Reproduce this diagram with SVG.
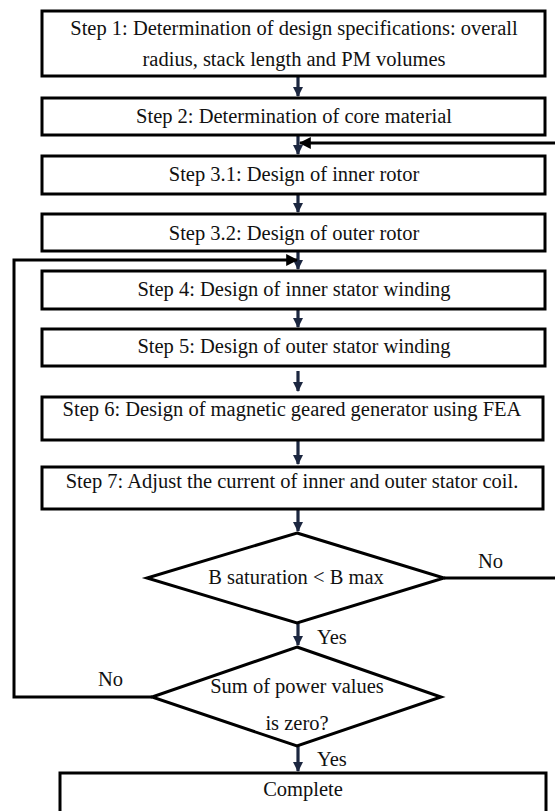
<svg xmlns="http://www.w3.org/2000/svg" width="555" height="811" viewBox="0 0 555 811">
<defs>
<marker id="ah" viewBox="0 0 10 10" refX="9" refY="5" markerWidth="3.2" markerHeight="3.2" orient="auto" markerUnits="strokeWidth">
<path d="M0,0 L10,5 L0,10 z" fill="#1c2740"/>
</marker>
<marker id="bh" viewBox="0 0 10 10" refX="9" refY="5" markerWidth="4" markerHeight="4" orient="auto" markerUnits="strokeWidth">
<path d="M0,0 L10,5 L0,10 z" fill="#000"/>
</marker>
</defs>
<style>
.box{fill:#fff;stroke:#000;stroke-width:3}
text{font-family:'Liberation Serif','Times New Roman',Times,serif;font-size:20.5px;fill:#111}
.t{text-anchor:middle}
.arr{stroke:#1c2740;stroke-width:3.2;fill:none;marker-end:url(#ah)}
.fb{stroke:#000;stroke-width:3;fill:none;marker-end:url(#bh)}
.ln{stroke:#000;stroke-width:3;fill:none}
</style>
<rect width="555" height="811" fill="#fff"/>
<g id="connectors">
<line class="arr" x1="298" y1="76" x2="298" y2="96"/>
<line class="arr" x1="298" y1="135" x2="298" y2="154"/>
<line class="arr" x1="298" y1="194" x2="298" y2="212"/>
<line class="arr" x1="298" y1="251" x2="298" y2="269"/>
<line class="arr" x1="298" y1="309" x2="298" y2="327"/>
<line class="arr" x1="298" y1="371" x2="298" y2="391"/>
<line class="arr" x1="298" y1="440" x2="298" y2="464"/>
<line class="arr" x1="298" y1="509" x2="298" y2="531"/>
<line class="arr" x1="298" y1="623" x2="298" y2="645"/>
<line class="arr" x1="298" y1="746" x2="298" y2="771"/>
<polyline class="fb" points="555,143 300,143"/>
<polyline class="ln" points="444,578 555,578"/>
<polyline class="fb" points="152,697 14,697 14,260 297,260"/>
<text x="478" y="568">No</text>
<text x="98" y="686">No</text>
<text x="317" y="644">Yes</text>
<text x="317" y="766">Yes</text>
</g>
<g id="step1">
<rect class="box" x="42" y="11" width="503" height="65"/>
<text class="t" x="294" y="35">Step 1: Determination of design specifications: overall</text>
<text class="t" x="294" y="66">radius, stack length and PM volumes</text>
</g>
<g id="step2">
<rect class="box" x="42" y="98" width="503" height="37"/>
<text class="t" x="294" y="123">Step 2: Determination of core material</text>
</g>
<g id="step31">
<rect class="box" x="42" y="156" width="503" height="38"/>
<text class="t" x="294" y="181">Step 3.1: Design of inner rotor</text>
</g>
<g id="step32">
<rect class="box" x="42" y="214" width="503" height="37"/>
<text class="t" x="294" y="240">Step 3.2: Design of outer rotor</text>
</g>
<g id="step4">
<rect class="box" x="42" y="271" width="503" height="38"/>
<text class="t" x="294" y="296">Step 4: Design of inner stator winding</text>
</g>
<g id="step5">
<rect class="box" x="42" y="329" width="503" height="37"/>
<text class="t" x="294" y="353">Step 5: Design of outer stator winding</text>
</g>
<g id="step6">
<rect class="box" x="42" y="397" width="501" height="43"/>
<text class="t" x="292" y="416">Step 6: Design of magnetic geared generator using FEA</text>
</g>
<g id="step7">
<rect class="box" x="42" y="467" width="501" height="42"/>
<text class="t" x="292" y="488">Step 7: Adjust the current of inner and outer stator coil.</text>
</g>
<g id="decision1">
<polygon class="box" points="297,533 444,578 297,623 147,578"/>
<text class="t" x="296" y="584">B saturation &lt; B max</text>
</g>
<g id="decision2">
<polygon class="box" points="297,647 441,697 297,746 152,697"/>
<text class="t" x="297" y="693">Sum of power values</text>
<text class="t" x="297" y="730">is zero?</text>
</g>
<g id="complete">
<rect class="box" x="60" y="773" width="486" height="50"/>
<text class="t" x="303" y="796">Complete</text>
</g>
</svg>
